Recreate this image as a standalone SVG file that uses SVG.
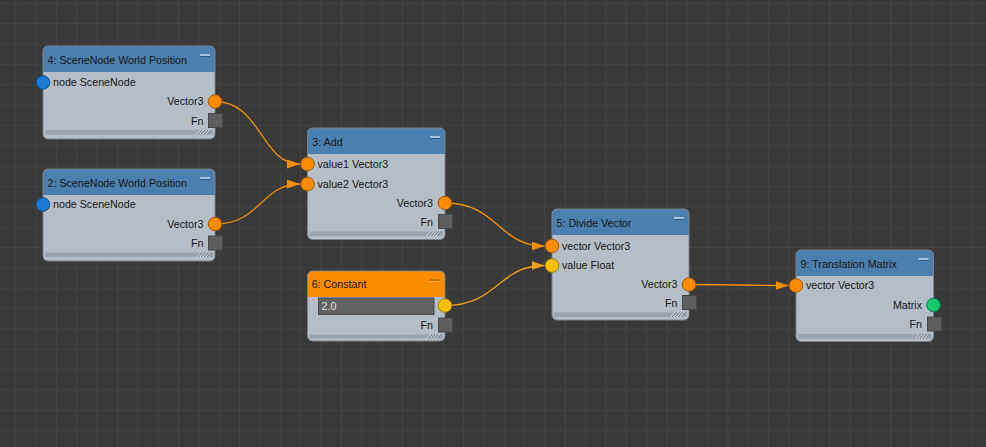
<svg xmlns="http://www.w3.org/2000/svg" xmlns:xlink="http://www.w3.org/1999/xlink" width="986" height="447" viewBox="0 0 986 447">
<style>
.body{fill:#b5bec7}
.frame{fill:none;stroke:#7a838c;stroke-width:1}
.hdr{fill:#4b80ae}
.hdr-c{fill:#fd8c00}
.t{font-family:"Liberation Sans",Arial,sans-serif;font-size:10.7px;fill:#151515}
.r{text-anchor:end}
.foot{fill:#9ba3ab}
.fn{fill:#5e5e5e;stroke:#44484c;stroke-width:1}
.p-or{fill:#ff8c00;stroke:#9a5a10;stroke-width:1}
.p-bl{fill:#1a7ad6;stroke:#0d4c8a;stroke-width:1}
.p-ye{fill:#ffc000;stroke:#9a7a10;stroke-width:1}
.p-gr{fill:#14c86c;stroke:#0b7a44;stroke-width:1}
.ico{fill:#a3c3e0}
.ico-d{fill:#2c5a84}
.ico-c{fill:#c96e00}
.ico-cl{fill:#ffb04a}
.edge{fill:none;stroke:#f0900a;stroke-width:1.3}
.edge-y{fill:none;stroke:#eea21a;stroke-width:1.3}
.field{fill:#626262;stroke:#48494a;stroke-width:1}
.ft{font-family:"Liberation Sans",Arial,sans-serif;font-size:10.7px;fill:#e4e4e4}
</style>
<defs>
<pattern id="grid" patternUnits="userSpaceOnUse" x="15.2" y="2.8" width="20.35" height="20.35">
<path d="M0.5 0V20.35M0 0.5H20.35" stroke="#434343" stroke-width="1" fill="none"/>
</pattern>
<marker id="arr" markerUnits="userSpaceOnUse" markerWidth="13" markerHeight="9" viewBox="0 0 13 9" refX="13" refY="4.5" orient="auto">
<path d="M0,0L13,4.5L0,9z" fill="#f0900a"/>
</marker>
<marker id="arr-y" markerUnits="userSpaceOnUse" markerWidth="13" markerHeight="9" viewBox="0 0 13 9" refX="13" refY="4.5" orient="auto">
<path d="M0,0L13,4.5L0,9z" fill="#eea21a"/>
</marker>
<g id="grip">
<path d="M0,4.5L4,0M3,4.5L7,0M6,4.5L10,0M9,4.5L13,0" stroke="#eef2f5" stroke-width="1"/>
<path d="M1,4.5L5,0M4,4.5L8,0M7,4.5L11,0M10,4.5L14,0" stroke="#5d656d" stroke-width="0.8"/>
</g>
</defs>
<rect width="986" height="447" fill="#393939"/>
<rect width="986" height="447" fill="url(#grid)"/>

<g id="connectors">
<path class="edge" d="M215,101.5C261,101.5 261,164 300,164" marker-end="url(#arr)"/>
<path class="edge" d="M215,224C261,224 261,184 300,184" marker-end="url(#arr)"/>
<path class="edge" d="M445,203C498,203 498,246 544.5,246" marker-end="url(#arr)"/>
<path class="edge-y" d="M445,305.5C498,305.5 498,265.5 544.5,265.5" marker-end="url(#arr-y)"/>
<path class="edge" d="M689,284.5C740,284.5 740,285.5 788.5,285.5" marker-end="url(#arr)"/>
</g>

<g id="node-4">
<rect class="body" x="43" y="46" width="172" height="93" rx="5"/>
<path class="hdr" d="M43,72V51a5,5 0 0 1 5,-5H210a5,5 0 0 1 5,5V72z"/>
<rect class="foot" x="45" y="130" width="168" height="4.5"/>
<use xlink:href="#grip" x="197" y="130"/>
<rect class="frame" x="43" y="46" width="172" height="93" rx="5"/>
<rect class="ico" x="200" y="54" width="10" height="2"/><rect class="ico-d" x="200" y="56" width="10" height="1"/>
<text class="t" x="47.5" y="64">4: SceneNode World Position</text>
<circle class="p-bl" cx="43" cy="82.5" r="6.8"/>
<text class="t" x="53" y="86.3">node SceneNode</text>
<circle class="p-or" cx="215" cy="101.5" r="6.8"/>
<text class="t r" x="203.5" y="105.3">Vector3</text>
<rect class="fn" x="208.5" y="113.5" width="14" height="14"/>
<text class="t r" x="203.5" y="124.5">Fn</text>
</g>

<g id="node-2">
<rect class="body" x="43" y="169" width="172" height="92" rx="5"/>
<path class="hdr" d="M43,195V174a5,5 0 0 1 5,-5H210a5,5 0 0 1 5,5V195z"/>
<rect class="foot" x="45" y="252.5" width="168" height="4.5"/>
<use xlink:href="#grip" x="197" y="252.5"/>
<rect class="frame" x="43" y="169" width="172" height="92" rx="5"/>
<rect class="ico" x="200" y="177" width="10" height="2"/><rect class="ico-d" x="200" y="179" width="10" height="1"/>
<text class="t" x="47.5" y="187">2: SceneNode World Position</text>
<circle class="p-bl" cx="43" cy="204.5" r="6.8"/>
<text class="t" x="53" y="208.3">node SceneNode</text>
<circle class="p-or" cx="215" cy="224" r="6.8"/>
<text class="t r" x="203.5" y="227.8">Vector3</text>
<rect class="fn" x="208.5" y="236" width="14" height="14"/>
<text class="t r" x="203.5" y="247">Fn</text>
</g>

<g id="node-3">
<rect class="body" x="307.5" y="128" width="137.5" height="111.5" rx="5"/>
<path class="hdr" d="M307.5,154V133a5,5 0 0 1 5,-5H440a5,5 0 0 1 5,5V154z"/>
<rect class="foot" x="309.5" y="231.5" width="133.5" height="4.5"/>
<use xlink:href="#grip" x="427" y="231.5"/>
<rect class="frame" x="307.5" y="128" width="137.5" height="111.5" rx="5"/>
<rect class="ico" x="430" y="136" width="10" height="2"/><rect class="ico-d" x="430" y="138" width="10" height="1"/>
<text class="t" x="312.3" y="145.5">3: Add</text>
<circle class="p-or" cx="307.5" cy="164" r="6.8"/>
<text class="t" x="317.5" y="167.8">value1 Vector3</text>
<circle class="p-or" cx="307.5" cy="184" r="6.8"/>
<text class="t" x="317.5" y="187.8">value2 Vector3</text>
<circle class="p-or" cx="445" cy="203" r="6.8"/>
<text class="t r" x="433" y="206.8">Vector3</text>
<rect class="fn" x="438.5" y="214.5" width="14" height="14"/>
<text class="t r" x="433" y="225.5">Fn</text>
</g>

<g id="node-6">
<rect class="body" x="307.5" y="271" width="137.5" height="70" rx="5"/>
<path class="hdr-c" d="M307.5,297V276a5,5 0 0 1 5,-5H440a5,5 0 0 1 5,5V297z"/>
<rect class="foot" x="309.5" y="334.5" width="133.5" height="4"/>
<use xlink:href="#grip" x="427" y="334.2"/>
<rect class="frame" x="307.5" y="271" width="137.5" height="70" rx="5"/>
<rect class="ico-c" x="430" y="279" width="10" height="2"/><rect class="ico-cl" x="430" y="281" width="10" height="1"/>
<text class="t" x="311.7" y="288">6: Constant</text>
<rect class="field" x="318.5" y="298" width="115.5" height="16.5"/>
<text class="ft" x="321.5" y="310">2.0</text>
<circle class="p-ye" cx="445" cy="305.5" r="6.8"/>
<rect class="fn" x="438.5" y="318" width="14" height="14"/>
<text class="t r" x="433" y="329">Fn</text>
</g>

<g id="node-5">
<rect class="body" x="552" y="209" width="137" height="111" rx="5"/>
<path class="hdr" d="M552,235V214a5,5 0 0 1 5,-5H684a5,5 0 0 1 5,5V235z"/>
<rect class="foot" x="554" y="312.5" width="133" height="4.5"/>
<use xlink:href="#grip" x="671" y="312.5"/>
<rect class="frame" x="552" y="209" width="137" height="111" rx="5"/>
<rect class="ico" x="674" y="217" width="10" height="2"/><rect class="ico-d" x="674" y="219" width="10" height="1"/>
<text class="t" x="556.5" y="226.5">5: Divide Vector</text>
<circle class="p-or" cx="552" cy="246" r="6.8"/>
<text class="t" x="562" y="249.8">vector Vector3</text>
<circle class="p-ye" cx="552" cy="265.5" r="6.8"/>
<text class="t" x="562" y="269.3">value Float</text>
<circle class="p-or" cx="689" cy="284.5" r="6.8"/>
<text class="t r" x="677.5" y="288.3">Vector3</text>
<rect class="fn" x="682.5" y="295.5" width="14" height="14"/>
<text class="t r" x="677.5" y="306.5">Fn</text>
</g>

<g id="node-9">
<rect class="body" x="796" y="250" width="137.5" height="91.5" rx="5"/>
<path class="hdr" d="M796,276V255a5,5 0 0 1 5,-5H928.5a5,5 0 0 1 5,5V276z"/>
<rect class="foot" x="798" y="334" width="133.5" height="4.5"/>
<use xlink:href="#grip" x="915.5" y="334"/>
<rect class="frame" x="796" y="250" width="137.5" height="91.5" rx="5"/>
<rect class="ico" x="918.5" y="258" width="10" height="2"/><rect class="ico-d" x="918.5" y="260" width="10" height="1"/>
<text class="t" x="800.5" y="268">9: Translation Matrix</text>
<circle class="p-or" cx="796" cy="285.5" r="6.8"/>
<text class="t" x="806" y="289.3">vector Vector3</text>
<circle class="p-gr" cx="933.5" cy="305" r="6.8"/>
<text class="t r" x="922" y="308.8">Matrix</text>
<rect class="fn" x="927.5" y="317" width="14" height="14"/>
<text class="t r" x="922" y="328">Fn</text>
</g>
</svg>
